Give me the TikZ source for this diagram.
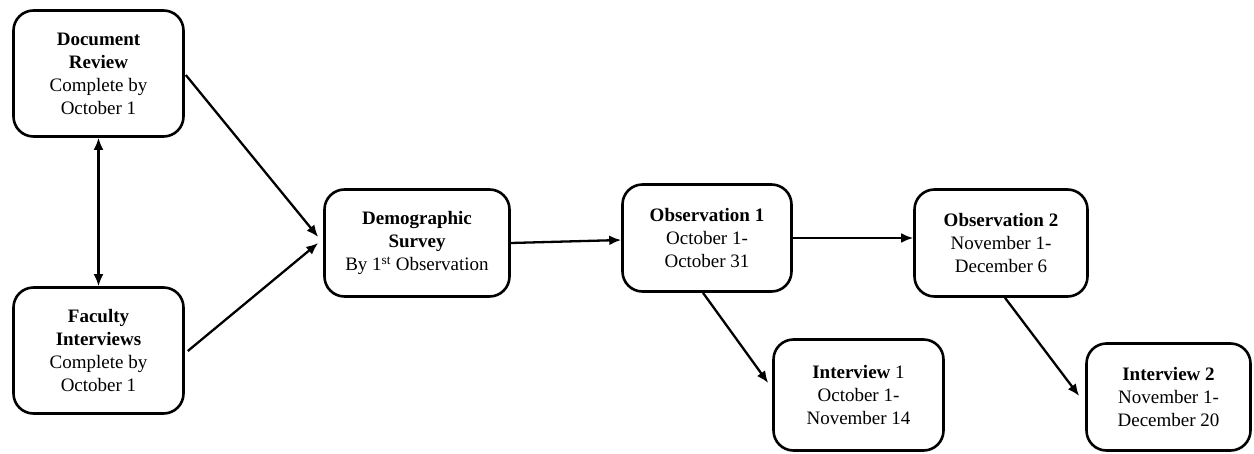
\documentclass[tikz,border=0pt]{standalone}
\usepackage{fontspec}
\setmainfont{Liberation Serif}
\usetikzlibrary{arrows.meta,calc}

\tikzset{
  stage/.style={draw=black, line width=2.6pt, rounded corners=20pt,
    align=center, inner sep=0pt, font=\fontsize{19}{23}\selectfont},
  flow/.style={line width=2.3pt, -{Latex[length=12pt,width=10pt]}},
  both/.style={line width=2.3pt, {Latex[length=12pt,width=10pt]}-{Latex[length=12pt,width=10pt]}}
}

\begin{document}
\begin{tikzpicture}[x=1pt, y=-1pt]
\useasboundingbox (0,0) rectangle (1254,453);

% stages
\node[stage, minimum width=170pt, minimum height=126pt] (doc) at (98.5,73.5)
  {\textbf{Document}\\\textbf{Review}\\Complete by\\October 1};
\node[stage, minimum width=170pt, minimum height=126pt] (fac) at (98.5,350.5)
  {\textbf{Faculty}\\\textbf{Interviews}\\Complete by\\October 1};
\node[stage, minimum width=185pt, minimum height=107pt] (demo) at (417,243)
  {\textbf{Demographic}\\\textbf{Survey}\\By 1\textsuperscript{st} Observation};
\node[stage, minimum width=169pt, minimum height=107pt] (obs1) at (707,238)
  {\textbf{Observation 1}\\October 1-\\October 31};
\node[stage, minimum width=173pt, minimum height=107pt] (obs2) at (1001,243)
  {\textbf{Observation 2}\\November 1-\\December 6};
\node[stage, minimum width=170pt, minimum height=111pt] (int1) at (858.5,395)
  {\textbf{Interview} 1\\October 1-\\November 14};
\node[stage, minimum width=164pt, minimum height=107pt] (int2) at (1168.5,397)
  {\textbf{Interview 2}\\November 1-\\December 20};

% connectors
\draw[both] (doc.south) -- (fac.north);
\draw[flow] ($(doc.east)+(1,1.5)$) -- ($(demo.west)+(-5,-6)$);
\draw[flow] ($(fac.east)+(3,0.5)$) -- ($(demo.west)+(-5,0)$);
\draw[flow] (demo.east) -- ($(obs1.west)+(0,2)$);
\draw[flow] (obs1.east) -- (obs1.east -| obs2.west);
\draw[flow] ($(obs1.south)+(-4,0)$) -- ($(int1.west)+(-4,-12)$);
\draw[flow] ($(obs2.south)+(4,0)$) -- ($(int2.west)+(-6,-1)$);
\end{tikzpicture}
\end{document}
